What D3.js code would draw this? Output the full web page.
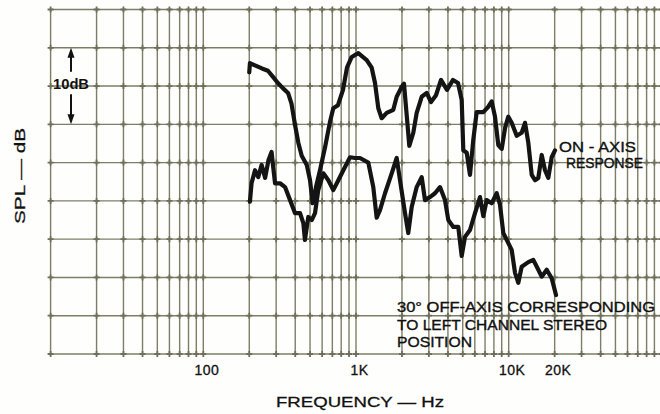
<!DOCTYPE html>
<html>
<head>
<meta charset="utf-8">
<script src="https://cdn.jsdelivr.net/npm/d3@7"></script>
<style>
  body { margin: 0; background: #fefefc; }
  svg { display: block; font-family: "Liberation Sans", Arial, sans-serif; }
</style>
</head>
<body>
<script>
// values (Hz, dB above chart bottom)
var onAxisFreq = [200, 202, 218, 242, 265, 286, 308, 333, 359, 378, 399, 419, 441, 476, 500, 520, 535, 547, 581, 627,
    675, 710, 762, 822, 873, 937, 1035, 1175, 1267, 1332, 1400, 1473, 1589, 1755, 1847, 1992, 2062, 2148, 2234, 2373,
    2497, 2693, 2904, 3098, 3341, 3603, 3945, 4318, 4656, 4922, 5043, 5309, 5579, 5864, 6171, 6819, 7352, 7738, 8133, 8548,
    9000, 9459, 9940, 10460, 11280, 12160, 12790, 13440, 14150, 14870, 15630, 16450, 17290, 18170, 19120, 20100];
var onAxisDb = [36.8, 38.0, 37.7, 37.3, 37.0, 36.2, 35.4, 34.7, 34.1, 32.7, 29.9, 27.6, 25.9, 24.7, 22.7, 19.7, 20.6, 21.8, 24.0, 27.0,
    30.3, 32.1, 32.5, 34.5, 37.4, 38.8, 39.3, 38.4, 37.4, 35.4, 32.1, 30.8, 31.5, 31.9, 33.6, 34.9, 35.3, 31.2, 27.2, 28.9,
    31.5, 33.6, 34.1, 32.9, 33.8, 35.8, 34.5, 35.8, 35.4, 33.2, 26.6, 26.3, 23.4, 28.0, 31.6, 31.6, 32.3, 33.0, 31.0, 27.3,
    26.8, 29.5, 31.0, 30.2, 28.5, 28.9, 30.2, 27.6, 23.4, 22.7, 23.0, 26.0, 24.0, 23.0, 25.7, 26.6];

var offAxisFreq = [202, 207, 218, 229, 241, 254, 267, 280, 287, 295, 318, 343, 370, 399, 430, 452, 463, 487, 513, 539,
    566, 611, 659, 710, 766, 826, 914, 985, 1062, 1204, 1298, 1366, 1436, 1549, 1713, 1847, 1942, 2094, 2200, 2316,
    2497, 2693, 2830, 3052, 3291, 3549, 3826, 4022, 4338, 4677, 4922, 5173, 5579, 6016, 6488, 6819, 7176, 7738, 8344, 8770,
    9218, 9703, 10460, 11000, 11560, 12160, 13440, 14490, 15630, 16450, 17740, 19120, 20410];
var offAxisDb = [19.9, 22.3, 24.0, 23.1, 24.7, 23.0, 25.3, 26.4, 24.4, 22.3, 22.3, 21.8, 20.1, 18.4, 18.4, 17.1, 14.9, 17.9, 17.5, 18.4,
    21.4, 23.6, 22.7, 21.4, 22.7, 24.0, 25.7, 25.6, 25.6, 25.0, 21.8, 17.8, 18.8, 21.0, 23.6, 25.6, 22.7, 18.4, 15.8, 19.2,
    21.8, 23.1, 20.1, 20.5, 21.0, 21.8, 20.1, 17.5, 16.6, 16.6, 12.8, 15.3, 16.2, 18.4, 20.5, 18.0, 20.1, 19.7, 21.0, 19.5,
    15.8, 14.9, 13.6, 10.6, 9.3, 11.4, 12.0, 12.3, 11.0, 10.1, 11.0, 9.9, 7.7];

var freqTicks = [100, 1000, 10000, 20000];
var freqTickLabels = ["100", "1K", "10K", "20K"];
var dbGrid = [0, 5, 10, 15, 20, 25, 30, 35, 40, 45];

function init(){
    var width = 660;
    var height = 414;

    var svg = d3.select("body")
                .append("svg")
                .attr("width", width)
                .attr("height", height);

    var x = d3.scaleLog()
        .domain([10, 100000])
        .range([50.6, 661.4]);

    var y = d3.scaleLinear()
        .domain([0, 45])
        .range([354, 9.5]);

    var gridColor = "#7e7e68";

    // vertical log grid lines, 1..9 per decade
    var gridFreqs = [];
    [10, 100, 1000, 10000].forEach(function(dec){
        for (var m = 1; m <= 9; m++) gridFreqs.push(dec * m);
    });
    gridFreqs.push(100000);

    var grid = svg.append("g");

    grid.selectAll("line.v")
        .data(gridFreqs)
        .enter()
        .append("line")
        .attr("class", "v")
        .attr("x1", function(d){ return x(d); })
        .attr("x2", function(d){ return x(d); })
        .attr("y1", y(45))
        .attr("y2", y(0))
        .attr("stroke", gridColor)
        .attr("stroke-width", 1.4);

    grid.selectAll("line.h")
        .data(dbGrid)
        .enter()
        .append("line")
        .attr("class", "h")
        .attr("x1", x(10))
        .attr("x2", width)
        .attr("y1", function(d){ return y(d); })
        .attr("y2", function(d){ return y(d); })
        .attr("stroke", gridColor)
        .attr("stroke-width", 1.4);

    // little crosses where the graph paper lines meet
    var crosses = [];
    dbGrid.forEach(function(db){
        gridFreqs.forEach(function(f){ crosses.push([f, db]); });
    });
    grid.selectAll("path.cross")
        .data(crosses)
        .enter()
        .append("path")
        .attr("class", "cross")
        .attr("d", function(d){
            var cx = x(d[0]), cy = y(d[1]);
            return "M" + (cx - 3) + "," + cy + "H" + (cx + 3) + "M" + cx + "," + (cy - 3) + "V" + (cy + 3);
        })
        .attr("stroke", "#6e6e5a")
        .attr("stroke-width", 1.8);

    // frequency labels
    var xAxis = d3.axisBottom(x)
        .tickValues(freqTicks)
        .tickFormat(function(d, i){ return freqTickLabels[i]; })
        .tickSize(0)
        .tickPadding(11);

    var axisG = svg.append("g")
        .attr("transform", "translate(3," + y(0) + ")")
        .call(xAxis);
    axisG.select(".domain").remove();
    axisG.selectAll("text")
        .attr("font-size", 14)
        .attr("font-family", "Liberation Sans, Arial, sans-serif")
        .attr("letter-spacing", 0.5)
        .attr("fill", "#111")
        .attr("stroke", "#111")
        .attr("stroke-width", 0.3);

    // response curves
    var line = d3.line()
        .x(function(d){ return x(d[0]); })
        .y(function(d){ return y(d[1]); });

    var onAxis = onAxisFreq.map(function(f, i){ return [f, onAxisDb[i]]; });
    var offAxis = offAxisFreq.map(function(f, i){ return [f, offAxisDb[i]]; });

    [onAxis, offAxis].forEach(function(series){
        svg.append("path")
            .datum(series)
            .attr("d", line)
            .attr("fill", "none")
            .attr("stroke", "#141414")
            .attr("stroke-width", 4.2)
            .attr("stroke-linejoin", "round")
            .attr("stroke-linecap", "round");
    });

    // 10 dB scale marker
    var ax = 71;
    var marker = svg.append("g").attr("fill", "#111").attr("stroke", "#111");
    marker.append("line")
        .attr("x1", ax).attr("x2", ax)
        .attr("y1", y(40) + 8).attr("y2", y(40) + 24)
        .attr("stroke-width", 2);
    marker.append("path")
        .attr("stroke", "none")
        .attr("d", "M" + ax + "," + y(40) + "L" + (ax - 3.5) + "," + (y(40) + 10) + "L" + (ax + 3.5) + "," + (y(40) + 10) + "Z");
    marker.append("line")
        .attr("x1", ax).attr("x2", ax)
        .attr("y1", y(30) - 30).attr("y2", y(30) - 8)
        .attr("stroke-width", 2);
    marker.append("path")
        .attr("stroke", "none")
        .attr("d", "M" + ax + "," + y(30) + "L" + (ax - 3.5) + "," + (y(30) - 10) + "L" + (ax + 3.5) + "," + (y(30) - 10) + "Z");

    svg.append("text")
        .attr("x", 53)
        .attr("y", 89)
        .attr("font-size", 14)
        .attr("font-weight", "bold")
        .attr("fill", "#111")
        .attr("textLength", 36)
        .attr("lengthAdjust", "spacingAndGlyphs")
        .text("10dB");

    // annotations
    function label(txt, lx, ly, len){
        svg.append("text")
            .attr("x", lx)
            .attr("y", ly)
            .attr("font-size", 14.5)
            .attr("fill", "#111")
            .attr("stroke", "#111")
            .attr("stroke-width", 0.35)
            .attr("textLength", len)
            .attr("lengthAdjust", "spacingAndGlyphs")
            .text(txt);
    }
    label("ON - AXIS", 559, 152, 77);
    label("RESPONSE", 566, 168, 77);
    label("30\u00b0 OFF-AXIS CORRESPONDING", 397, 312, 258);
    label("TO LEFT CHANNEL STEREO", 397, 330, 210);
    label("POSITION", 397, 347, 75);

    // axis titles
    svg.append("text")
        .attr("x", 360)
        .attr("y", 407)
        .attr("text-anchor", "middle")
        .attr("font-size", 15)
        .attr("fill", "#111")
        .attr("stroke", "#111")
        .attr("stroke-width", 0.3)
        .attr("textLength", 168)
        .attr("lengthAdjust", "spacingAndGlyphs")
        .text("FREQUENCY \u2014 Hz");

    svg.append("text")
        .attr("transform", "translate(25,176) rotate(-90)")
        .attr("text-anchor", "middle")
        .attr("font-size", 15.5)
        .attr("fill", "#111")
        .attr("stroke", "#111")
        .attr("stroke-width", 0.3)
        .attr("textLength", 96)
        .attr("lengthAdjust", "spacingAndGlyphs")
        .text("SPL \u2014 dB");
}

window.onload = init;
</script>
</body>
</html>
